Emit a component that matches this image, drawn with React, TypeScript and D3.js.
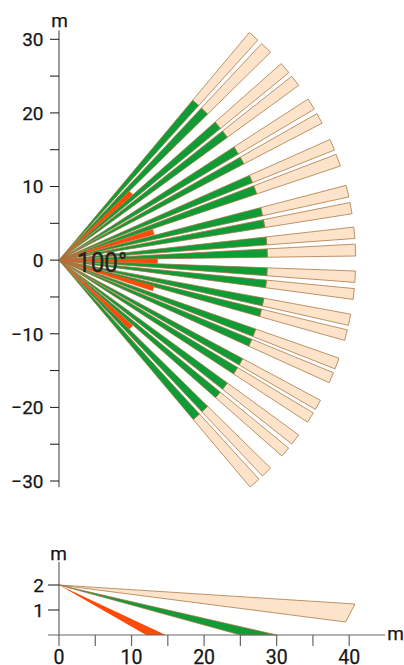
import React from "react";
import * as d3 from "d3";

const WIDTH = 404;
const HEIGHT = 665;

// Beam edge angles (degrees, positive = up)
const beamUpper = [50.1, 47.9, 46.9, 44.5, 41.5, 39.2, 38.3, 36.1, 32.9, 30.6, 29.6, 27.5, 24.0, 21.8, 20.9, 18.5, 14.6, 12.3, 11.2, 9.0, 6.4, 4.2, 3.1, 0.8];
const beamLower = [-2.1, -4.3, -5.5, -7.6, -10.5, -12.7, -13.6, -15.7, -19.3, -21.5, -22.3, -24.4, -28.2, -30.2, -31.0, -33.1, -36.1, -38.3, -39.3, -41.3, -44.5, -46.7, -47.6, -49.9];
const beamEdges = [...beamUpper, ...beamLower];
const redEdges = [44.5, 41.5, 18.2, 15.0, 1.0, -1.9, -15.0, -18.2, -41.5, -44.4];

const outerRange = 40.3;
const greenRange = 28.3;
const redRange = 13.4;

const topTicks = [-30, -25, -20, -15, -10, -5, 0, 5, 10, 15, 20, 25, 30];
const topLabels = [-30, -20, -10, 0, 10, 20, 30];
const sideXTicks = [0, 5, 10, 15, 20, 25, 30, 35, 40];
const sideXLabels = [0, 10, 20, 30, 40];
const sideYLabels = [1, 2];

const sideOrigin: [number, number] = [0, 2];
const sideLight: [number, number][] = [[40.8, 1.24], [39.5, 0.52]];
const sideGreen: [number, number][] = [[30, 0], [25, 0]];
const sideRed: [number, number][] = [[14.7, 0], [12.0, 0]];

const COL = {
  light: "#fde3c9",
  green: "#0f9b36",
  red: "#ff4b0a",
  edge: "#a6743f",
  axis: "#666666",
  text: "#161616",
};
const FONT = "Roboto, 'Noto Sans', sans-serif";

export default function App() {
  const yTop = d3.scaleLinear().domain([-30, 30]).range([481, 39.3]);
  const kTop = yTop(0) - yTop(1);
  const x0 = 59;
  const polar = (deg: number, r: number): [number, number] => {
    const a = (deg * Math.PI) / 180;
    return [x0 + r * kTop * Math.cos(a), yTop(0) - r * kTop * Math.sin(a)];
  };
  const line = d3.line().curve(d3.curveLinearClosed);

  const beams: { a: number; b: number }[] = [];
  for (let i = 0; i < beamEdges.length; i += 2) beams.push({ a: beamEdges[i], b: beamEdges[i + 1] });
  const reds: { a: number; b: number }[] = [];
  for (let i = 0; i < redEdges.length; i += 2) reds.push({ a: redEdges[i], b: redEdges[i + 1] });

  const xSide = d3.scaleLinear().domain([0, 40]).range([59, 349.2]);
  const ySide = d3.scaleLinear().domain([0, 2]).range([635, 585]);
  const sidePoly = (pts: [number, number][]) =>
    line([sideOrigin, ...pts].map(([x, y]) => [xSide(x), ySide(y)] as [number, number])) as string;

  return (
    <svg
      width={WIDTH}
      height={HEIGHT}
      viewBox={`0 0 ${WIDTH} ${HEIGHT}`}
      style={{ position: "absolute", left: 0, top: 0, background: "#fff" }}
      fontFamily={FONT}
    >
      {/* plan view beams */}
      <g stroke={COL.edge} strokeWidth={0.75} strokeLinejoin="round">
        {beams.map((d, i) => (
          <g key={i}>
            <path
              fill={COL.light}
              d={line([polar(d.a, greenRange), polar(d.a, outerRange), polar(d.b, outerRange), polar(d.b, greenRange)]) as string}
            />
            <path
              fill={COL.green}
              d={line([polar(0, 0), polar(d.a, greenRange), polar(d.b, greenRange)]) as string}
            />
          </g>
        ))}
        {reds.map((d, i) => (
          <path
            key={i}
            fill={COL.red}
            strokeWidth={0.4}
            d={line([polar(0, 0), polar(d.a, redRange), polar(d.b, redRange)]) as string}
          />
        ))}
      </g>

      {/* plan view axis */}
      <line x1={x0} x2={x0} y1={30.5} y2={487} stroke={COL.axis} strokeWidth={1.3} />
      {topTicks.map((t) => (
        <line key={t} x1={50} x2={x0} y1={yTop(t)} y2={yTop(t)} stroke={COL.text} strokeWidth={1} />
      ))}
      {topLabels.map((t) => (
        <text key={t} x={43.5} y={yTop(t) + 6.8} textAnchor="end" fontSize={19} fontWeight={400} fill={COL.text} stroke={COL.text} strokeWidth={0.25}>
          {t < 0 ? `\u2212${-t}` : t}
        </text>
      ))}
      <text x={59.5} y={27} textAnchor="middle" fontSize={19} fontWeight={400} fill={COL.text} stroke={COL.text} strokeWidth={0.25}>m</text>
      <text
        x={77}
        y={271.5}
        fontSize={27}
        textLength={50}
        lengthAdjust="spacingAndGlyphs"
        fill="#222222"
        stroke="#222222"
        strokeWidth={0.35}
      >
        100°
      </text>

      {/* side view */}
      <g stroke={COL.edge} strokeWidth={0.75} strokeLinejoin="round">
        <path fill={COL.light} d={sidePoly(sideLight)} />
        <path fill={COL.green} d={sidePoly(sideGreen)} />
        <path fill={COL.red} stroke="none" d={sidePoly(sideRed)} />
      </g>
      <line x1={x0} x2={x0} y1={562} y2={635} stroke={COL.axis} strokeWidth={1.2} />
      <line x1={48} x2={385} y1={635} y2={635} stroke={COL.axis} strokeWidth={1.2} />
      {sideXTicks.map((t) => (
        <line key={t} x1={xSide(t)} x2={xSide(t)} y1={635} y2={646} stroke={COL.axis} strokeWidth={1.2} />
      ))}
      {sideYLabels.map((t) => (
        <line key={t} x1={48} x2={x0} y1={ySide(t)} y2={ySide(t)} stroke={COL.text} strokeWidth={1} />
      ))}
      {sideYLabels.map((t) => (
        <text key={t} x={44} y={ySide(t) + 6.8} textAnchor="end" fontSize={19} fontWeight={400} fill={COL.text} stroke={COL.text} strokeWidth={0.25}>
          {t}
        </text>
      ))}
      {sideXLabels.map((t) => (
        <text key={t} x={xSide(t)} y={664} textAnchor="middle" fontSize={19.5} fontWeight={400} fill={COL.text} stroke={COL.text} strokeWidth={0.25}>
          {t}
        </text>
      ))}
      <text x={58.5} y={560} textAnchor="middle" fontSize={19} fontWeight={400} fill={COL.text} stroke={COL.text} strokeWidth={0.25}>m</text>
      <text x={395.5} y={639.5} textAnchor="middle" fontSize={19} fontWeight={400} fill={COL.text} stroke={COL.text} strokeWidth={0.25}>m</text>
    </svg>
  );
}
